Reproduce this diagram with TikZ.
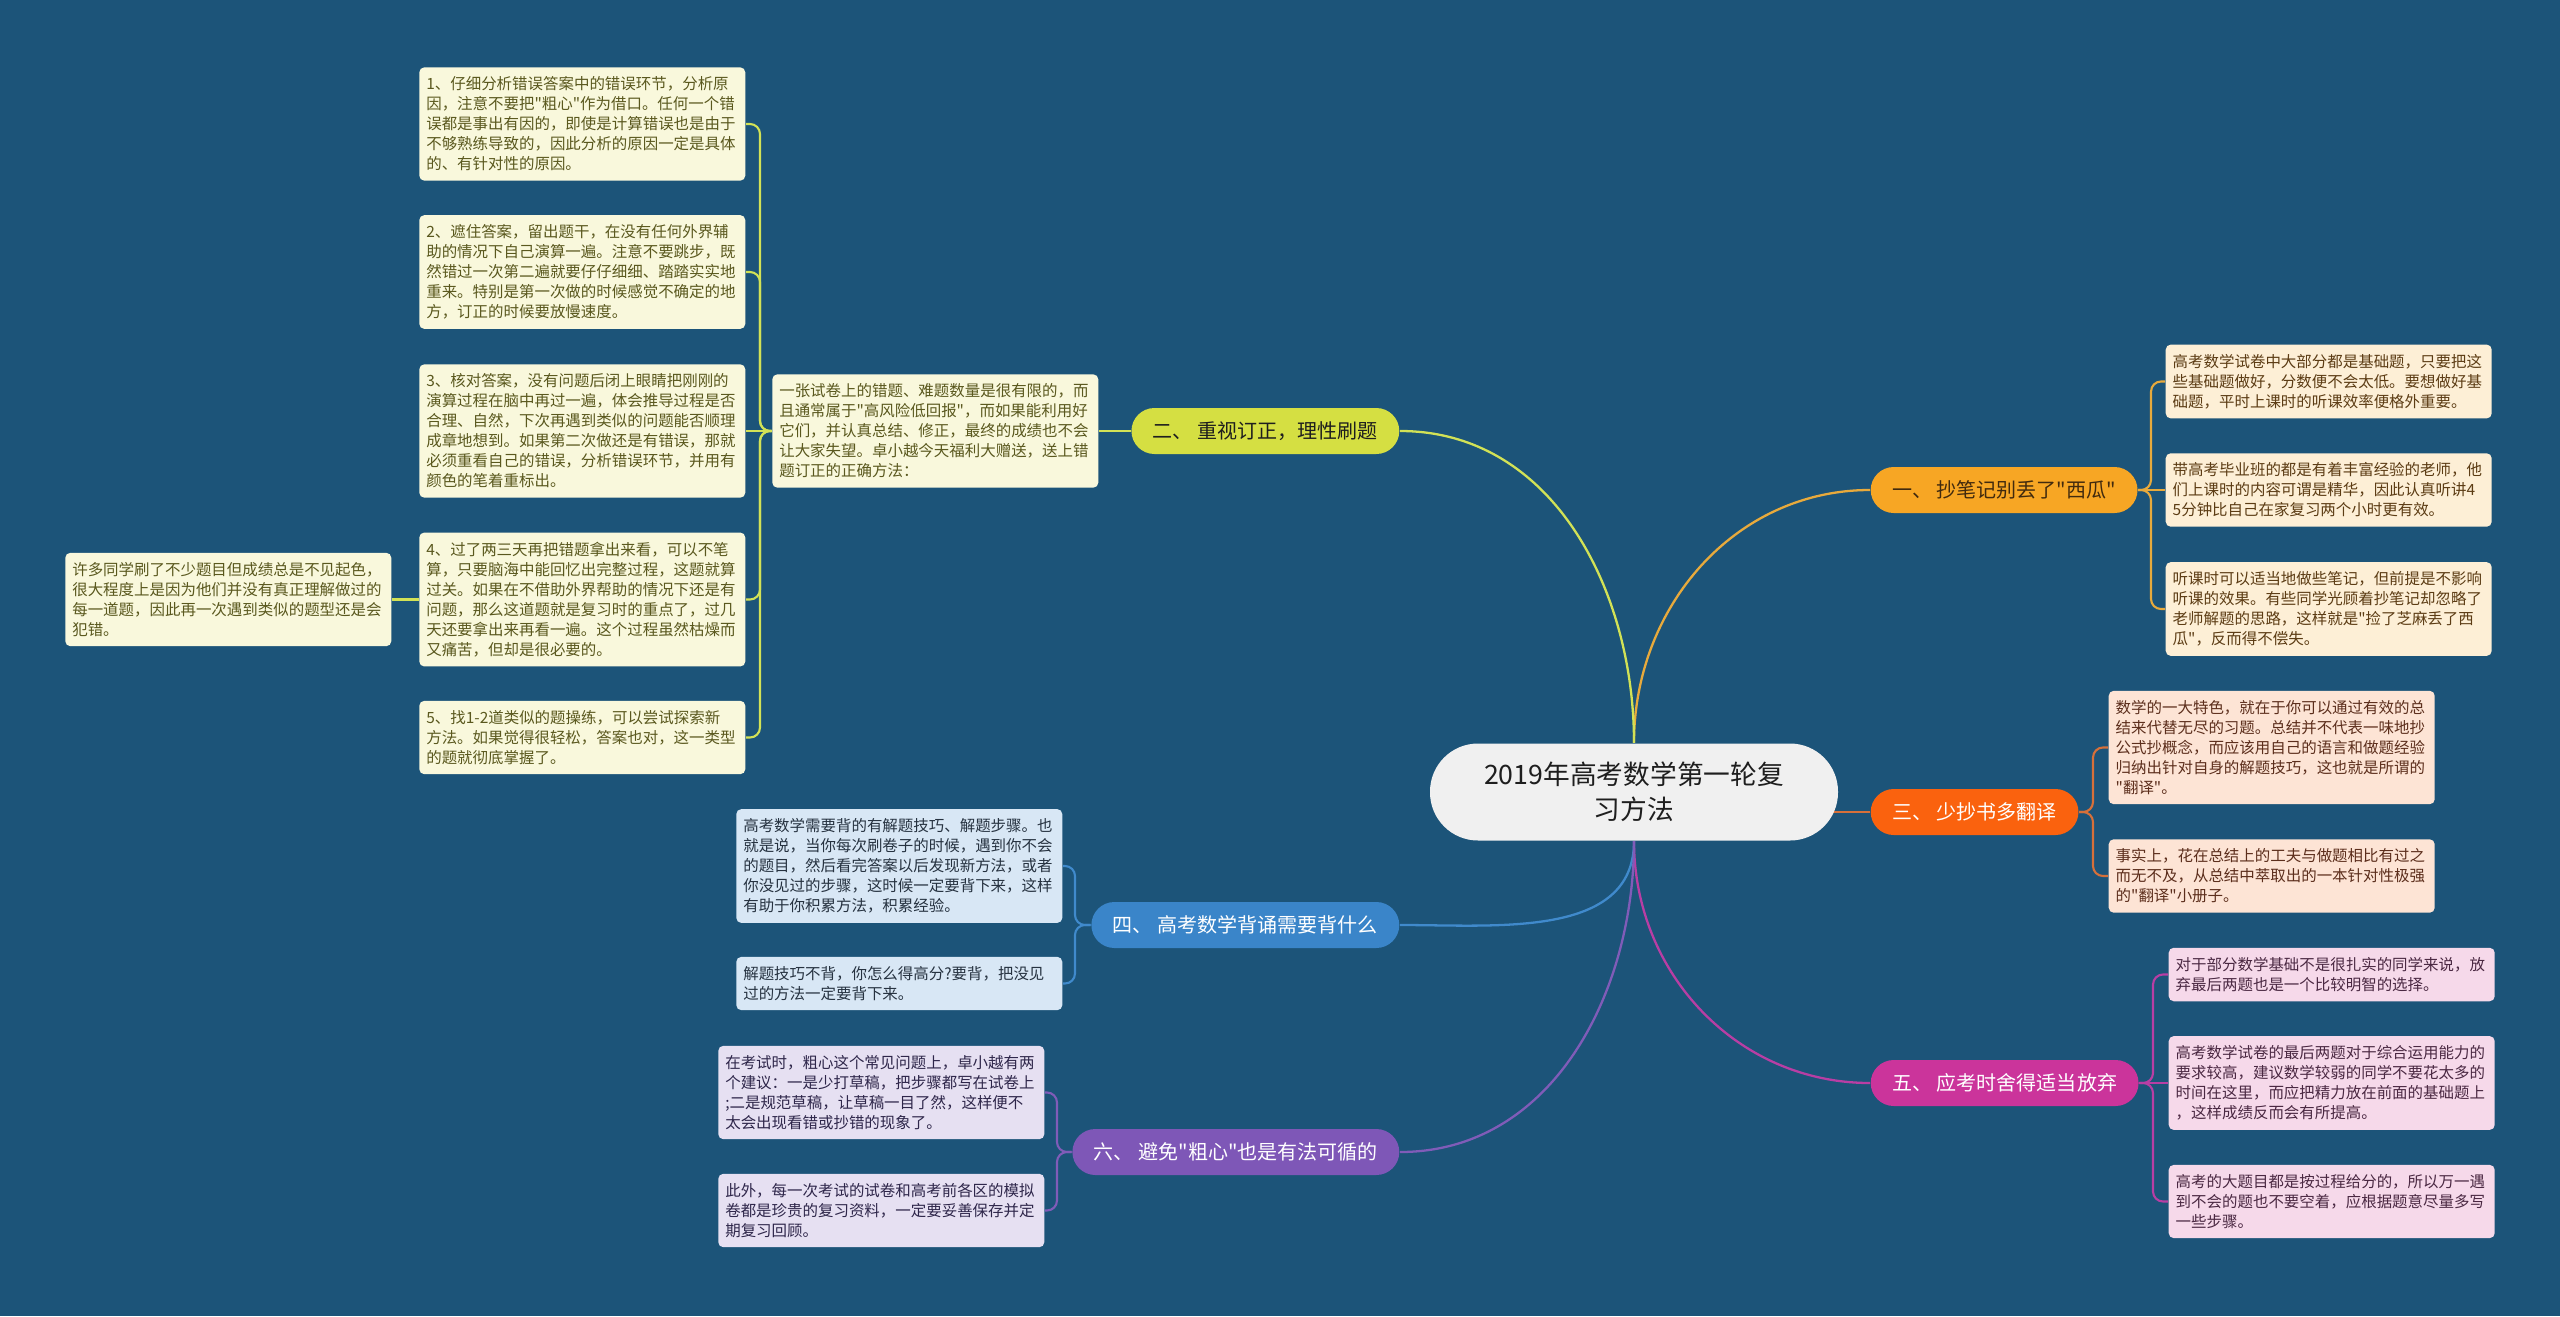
\documentclass[tikz,border=0pt]{standalone}
\usepackage{fontspec}
\setmainfont{Noto Sans CJK SC}[Ligatures=TeXOff]
\usetikzlibrary{backgrounds}
\definecolor{deepsea}{RGB}{28,84,121}
\definecolor{rootgray}{RGB}{240,240,240}
\definecolor{rootink}{RGB}{30,30,30}
\definecolor{goldtopic}{RGB}{247,166,36}
\definecolor{goldline}{RGB}{232,170,60}
\definecolor{goldnote}{RGB}{253,239,214}
\definecolor{goldink}{RGB}{92,60,20}
\definecolor{limetopic}{RGB}{213,223,66}
\definecolor{limeline}{RGB}{210,226,86}
\definecolor{limenote}{RGB}{249,248,220}
\definecolor{limeink}{RGB}{90,88,30}
\definecolor{flametopic}{RGB}{250,98,14}
\definecolor{flameline}{RGB}{214,112,58}
\definecolor{flamenote}{RGB}{253,228,213}
\definecolor{flameink}{RGB}{92,46,28}
\definecolor{skytopic}{RGB}{58,133,201}
\definecolor{skyline}{RGB}{64,138,204}
\definecolor{skynote}{RGB}{216,231,245}
\definecolor{skyink}{RGB}{38,50,64}
\definecolor{rosetopic}{RGB}{203,52,155}
\definecolor{roseline}{RGB}{184,62,164}
\definecolor{rosenote}{RGB}{246,217,234}
\definecolor{roseink}{RGB}{74,40,66}
\definecolor{violettopic}{RGB}{126,87,183}
\definecolor{violetline}{RGB}{128,92,184}
\definecolor{violetnote}{RGB}{230,224,242}
\definecolor{violetink}{RGB}{46,38,74}

\begin{document}
\begin{tikzpicture}[
      link/.style={line width=0.65pt},
      fork/.style={line width=0.6pt, rounded corners=0.1cm},
      root/.style={fill=rootgray, text=rootink, rounded corners=0.48cm,
                   minimum width=4.08cm, minimum height=0.97cm, align=center,
                   font=\fontsize{7.6}{10}\selectfont},
      topic/.style={rounded corners=0.23cm, minimum height=0.46cm,
                    inner xsep=0.215cm, inner ysep=0pt,
                    font=\fontsize{5.7}{6.8}\selectfont},
      note/.style={rounded corners=0.05cm, text width=3.12cm, align=left,
                   inner xsep=0.07cm, inner ysep=0.095cm,
                   font=\fontsize{4.4}{5.69}\selectfont}
    ]
    \useasboundingbox (0,0) rectangle (25.6,-13.16);
    \begin{scope}[on background layer]
      \fill[deepsea] (0,0) rectangle (25.6,-13.16);
    \end{scope}

    \node[root] (root) at (16.34,-7.92) {2019年高考数学第一轮复\\习方法};

    \node[topic, fill=goldtopic, text=goldink!70!black, anchor=west] (b1) at (18.70,-4.90) {一、 抄笔记别丢了"西瓜"};
    \node[topic, fill=limetopic, text=rootink, anchor=east] (b2) at (14.00,-4.31) {二、 重视订正，理性刷题};
    \node[topic, fill=flametopic, text=white, anchor=west] (b3) at (18.70,-8.12) {三、 少抄书多翻译};
    \node[topic, fill=skytopic, text=white, anchor=east] (b4) at (14.00,-9.25) {四、 高考数学背诵需要背什么};
    \node[topic, fill=rosetopic, text=white, anchor=west] (b5) at (18.70,-10.83) {五、 应考时舍得适当放弃};
    \node[topic, fill=violettopic, text=white, anchor=east] (b6) at (14.00,-11.52) {六、 避免"粗心"也是有法可循的};

    \node[note, fill=goldnote, text=goldink, anchor=west] (n1a) at (21.65,-3.815) {%
      高考数学试卷中大部分都是基础题，只要把这\\
      些基础题做好，分数便不会太低。要想做好基\\
      础题，平时上课时的听课效率便格外重要。};
    \node[note, fill=goldnote, text=goldink, anchor=west] (n1b) at (21.65,-4.90) {%
      带高考毕业班的都是有着丰富经验的老师，他\\
      们上课时的内容可谓是精华，因此认真听讲4\\
      5分钟比自己在家复习两个小时更有效。};
    \node[note, fill=goldnote, text=goldink, anchor=west] (n1c) at (21.65,-6.09) {%
      听课时可以适当地做些笔记，但前提是不影响\\
      听课的效果。有些同学光顾着抄笔记却忽略了\\
      老师解题的思路，这样就是"捡了芝麻丢了西\\
      瓜"，反而得不偿失。};

    \node[note, fill=limenote, text=limeink, anchor=east] (m2) at (10.99,-4.31) {%
      一张试卷上的错题、难题数量是很有限的，而\\
      且通常属于"高风险低回报"，而如果能利用好\\
      它们，并认真总结、修正，最终的成绩也不会\\
      让大家失望。卓小越今天福利大赠送，送上错\\
      题订正的正确方法：};
    \node[note, fill=limenote, text=limeink, anchor=east] (n2a) at (7.46,-1.24) {%
      1、仔细分析错误答案中的错误环节，分析原\\
      因，注意不要把"粗心"作为借口。任何一个错\\
      误都是事出有因的，即使是计算错误也是由于\\
      不够熟练导致的，因此分析的原因一定是具体\\
      的、有针对性的原因。};
    \node[note, fill=limenote, text=limeink, anchor=east] (n2b) at (7.46,-2.72) {%
      2、遮住答案，留出题干，在没有任何外界辅\\
      助的情况下自己演算一遍。注意不要跳步，既\\
      然错过一次第二遍就要仔仔细细、踏踏实实地\\
      重来。特别是第一次做的时候感觉不确定的地\\
      方，订正的时候要放慢速度。};
    \node[note, fill=limenote, text=limeink, anchor=east] (n2c) at (7.46,-4.31) {%
      3、核对答案，没有问题后闭上眼睛把刚刚的\\
      演算过程在脑中再过一遍，体会推导过程是否\\
      合理、自然，下次再遇到类似的问题能否顺理\\
      成章地想到。如果第二次做还是有错误，那就\\
      必须重看自己的错误，分析错误环节，并用有\\
      颜色的笔着重标出。};
    \node[note, fill=limenote, text=limeink, anchor=east] (n2d) at (7.46,-5.995) {%
      4、过了两三天再把错题拿出来看，可以不笔\\
      算，只要脑海中能回忆出完整过程，这题就算\\
      过关。如果在不借助外界帮助的情况下还是有\\
      问题，那么这道题就是复习时的重点了，过几\\
      天还要拿出来再看一遍。这个过程虽然枯燥而\\
      又痛苦，但却是很必要的。};
    \node[note, fill=limenote, text=limeink, anchor=east] (n2e) at (7.46,-7.375) {%
      5、找1-2道类似的题操练，可以尝试探索新\\
      方法。如果觉得很轻松，答案也对，这一类型\\
      的题就彻底掌握了。};
    \node[note, fill=limenote, text=limeink, anchor=east] (n2f) at (3.92,-5.995) {%
      许多同学刷了不少题目但成绩总是不见起色，\\
      很大程度上是因为他们并没有真正理解做过的\\
      每一道题，因此再一次遇到类似的题型还是会\\
      犯错。};

    \node[note, fill=flamenote, text=flameink, anchor=west] (n3a) at (21.08,-7.475) {%
      数学的一大特色，就在于你可以通过有效的总\\
      结来代替无尽的习题。总结并不代表一味地抄\\
      公式抄概念，而应该用自己的语言和做题经验\\
      归纳出针对自身的解题技巧，这也就是所谓的\\
      "翻译"。};
    \node[note, fill=flamenote, text=flameink, anchor=west] (n3b) at (21.08,-8.76) {%
      事实上，花在总结上的工夫与做题相比有过之\\
      而无不及，从总结中萃取出的一本针对性极强\\
      的"翻译"小册子。};

    \node[note, fill=skynote, text=skyink, anchor=east] (n4a) at (10.63,-8.66) {%
      高考数学需要背的有解题技巧、解题步骤。也\\
      就是说，当你每次刷卷子的时候，遇到你不会\\
      的题目，然后看完答案以后发现新方法，或者\\
      你没见过的步骤，这时候一定要背下来，这样\\
      有助于你积累方法，积累经验。};
    \node[note, fill=skynote, text=skyink, anchor=east] (n4b) at (10.63,-9.835) {%
      解题技巧不背，你怎么得高分?要背，把没见\\
      过的方法一定要背下来。};

    \node[note, fill=rosenote, text=roseink, anchor=west] (n5a) at (21.68,-9.745) {%
      对于部分数学基础不是很扎实的同学来说，放\\
      弃最后两题也是一个比较明智的选择。};
    \node[note, fill=rosenote, text=roseink, anchor=west] (n5b) at (21.68,-10.83) {%
      高考数学试卷的最后两题对于综合运用能力的\\
      要求较高，建议数学较弱的同学不要花太多的\\
      时间在这里，而应把精力放在前面的基础题上\\
      ，这样成绩反而会有所提高。};
    \node[note, fill=rosenote, text=roseink, anchor=west] (n5c) at (21.68,-12.015) {%
      高考的大题目都是按过程给分的，所以万一遇\\
      到不会的题也不要空着，应根据题意尽量多写\\
      一些步骤。};

    \node[note, fill=violetnote, text=violetink, anchor=east] (n6a) at (10.45,-10.925) {%
      在考试时，粗心这个常见问题上，卓小越有两\\
      个建议：一是少打草稿，把步骤都写在试卷上\\
      ;二是规范草稿，让草稿一目了然，这样便不\\
      太会出现看错或抄错的现象了。};
    \node[note, fill=violetnote, text=violetink, anchor=east] (n6b) at (10.45,-12.105) {%
      此外，每一次考试的试卷和高考前各区的模拟\\
      卷都是珍贵的复习资料，一定要妥善保存并定\\
      期复习回顾。};

    \begin{scope}[on background layer]
      \draw[link, goldline] (root.north) to[out=90, in=180] (b1.west);
      \draw[link, limeline] (root.north) to[out=90, in=0] (b2.east);
      \draw[link, flameline] (b3.west -| root.center) -- (b3.west);
      \draw[link, skyline] (root.south) to[out=-90, in=0] (b4.east);
      \draw[link, roseline] (root.south) to[out=-90, in=180] (b5.west);
      \draw[link, violetline] (root.south) to[out=-90, in=0] (b6.east);

      \draw[fork, goldline] (b1.east) -- (n1b.west);
      \foreach \n in {n1a,n1c}
        \draw[fork, goldline] (b1.east) -| ([xshift=-0.14cm]\n.west) -- (\n.west);
      \draw[fork, limeline] (b2.west) -- (m2.east);
      \draw[fork, limeline] (m2.west) -- (n2c.east);
      \foreach \n in {n2a,n2b,n2d,n2e}
        \draw[fork, limeline] (m2.west) -| ([xshift=0.14cm]\n.east) -- (\n.east);
      \draw[fork, limeline] (n2d.west) -- (n2f.east);
      \foreach \n in {n3a,n3b}
        \draw[fork, flameline] (b3.east) -| ([xshift=-0.15cm]\n.west) -- (\n.west);
      \foreach \n in {n4a,n4b}
        \draw[fork, skyline] (b4.west) -| ([xshift=0.12cm]\n.east) -- (\n.east);
      \draw[fork, roseline] (b5.east) -- (n5b.west);
      \foreach \n in {n5a,n5c}
        \draw[fork, roseline] (b5.east) -| ([xshift=-0.15cm]\n.west) -- (\n.west);
      \foreach \n in {n6a,n6b}
        \draw[fork, violetline] (b6.west) -| ([xshift=0.12cm]\n.east) -- (\n.east);
    \end{scope}
  \end{tikzpicture}
\end{document}
